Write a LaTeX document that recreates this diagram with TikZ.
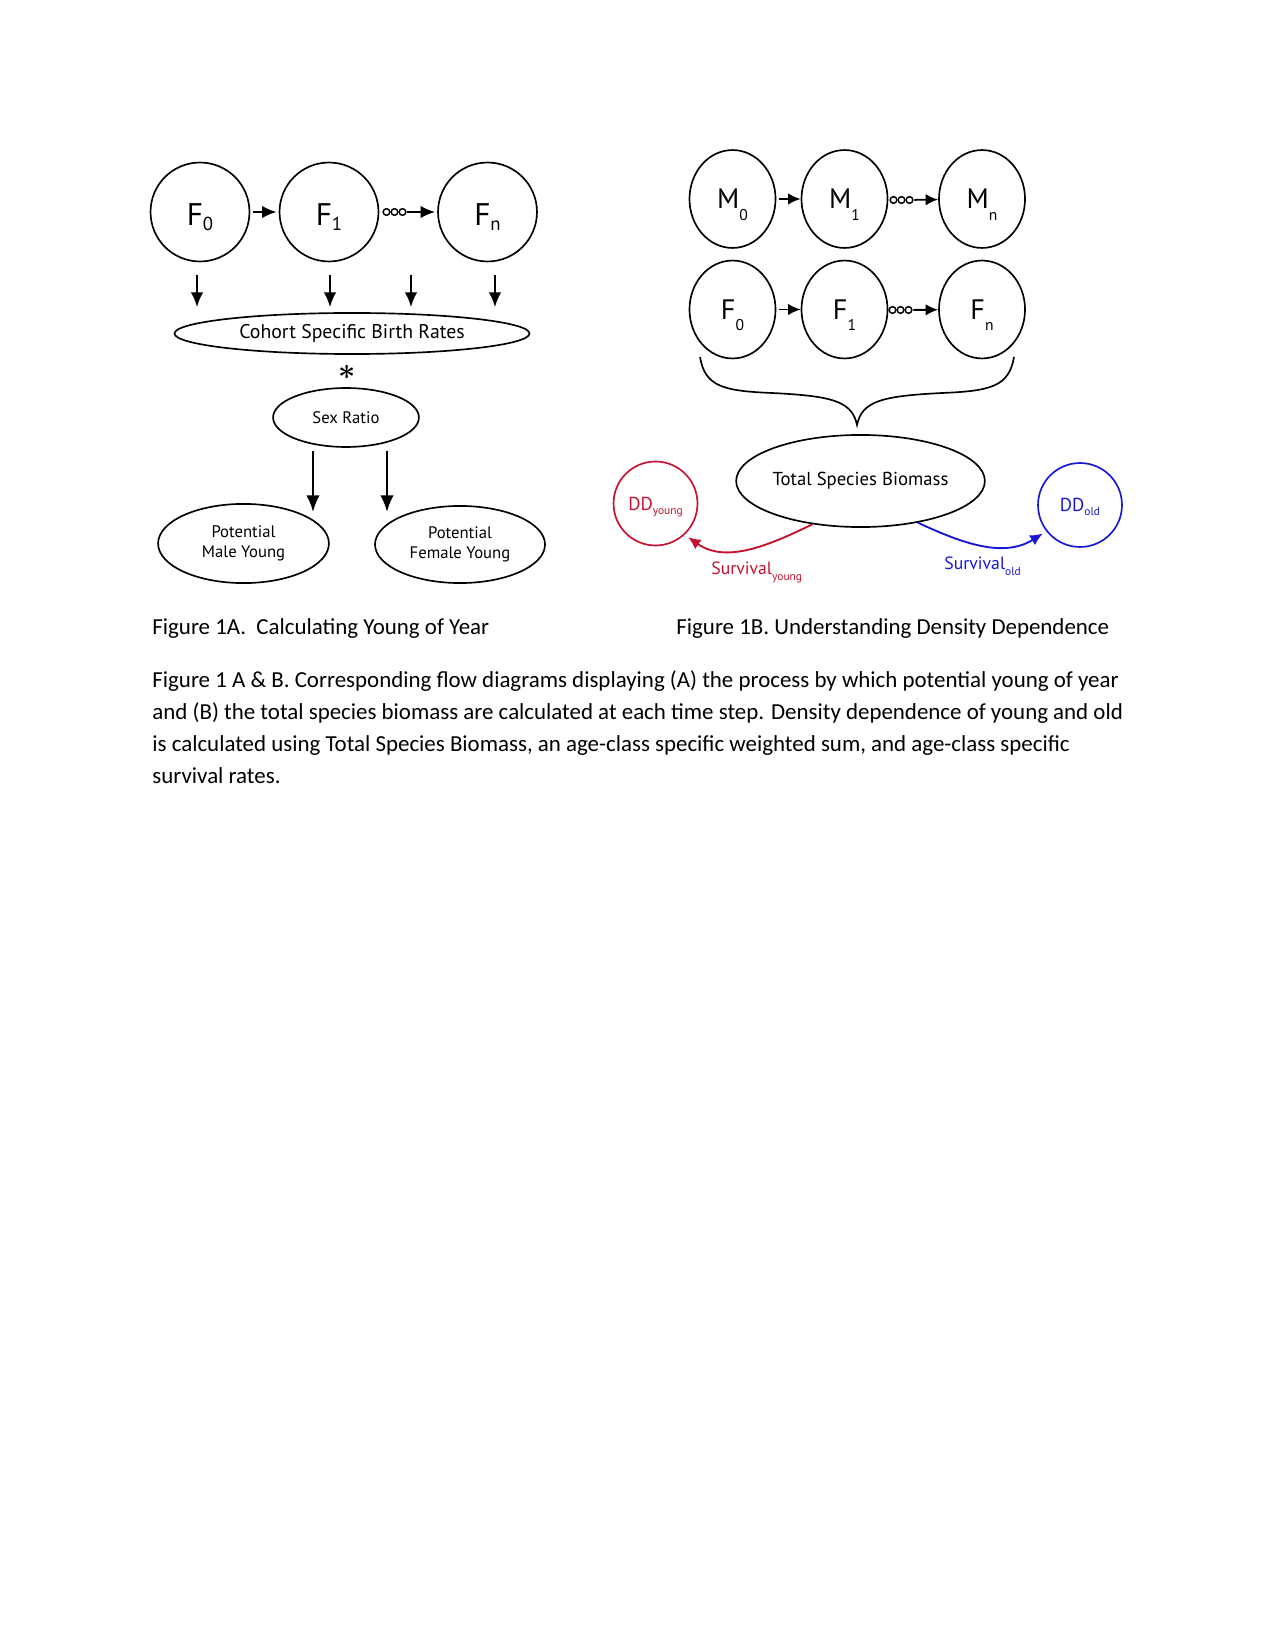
\documentclass[tikz,border=0pt]{standalone}
\usepackage{fontspec}
\usepackage{amsmath}
\setmainfont{Carlito}
\newfontfamily\diagfont{PT Sans}
\usetikzlibrary{arrows.meta,shapes.geometric,positioning}

\definecolor{ddred}{RGB}{196,18,48}
\definecolor{ddblue}{RGB}{24,24,210}

% cohort labels: big letter with a lowered index
\newcommand{\lefttag}[2]{{\fontsize{15}{15}\selectfont #1}\raisebox{-2.5pt}{\fontsize{9}{9}\selectfont #2}}
\newcommand{\righttag}[2]{{\fontsize{13.5}{14}\selectfont #1}\raisebox{-5.5pt}{\fontsize{7.5}{8}\selectfont #2}}
\newcommand{\subtag}[3]{#1\raisebox{#3}{\fontsize{5.5}{6}\selectfont #2}}

\begin{document}
\begin{tikzpicture}[x=0.48pt, y=-0.48pt,
    arr/.style={-{Latex[length=7pt,width=6pt]}, line width=0.9pt},
    thinarr/.style={-{Latex[length=6pt,width=5.5pt]}, line width=0.9pt},
    agecirc/.style={circle, draw, line width=0.8pt, minimum size=47.5pt, inner sep=0pt,
      text height=13pt, text depth=0pt, font=\diagfont},
    ageoval/.style={ellipse, draw, line width=0.8pt, minimum width=41.3pt, minimum height=47pt,
      inner sep=0pt, text height=9.5pt, text depth=0pt, font=\diagfont},
    flowoval/.style={ellipse, draw, line width=0.8pt, inner sep=0pt, align=center,
      font=\diagfont\fontsize{8}{9.9}\selectfont},
    ddcirc/.style={circle, draw=#1, text=#1, line width=0.8pt, minimum size=40.3pt, inner sep=0pt,
      text height=6.4pt, text depth=0pt, font=\diagfont\fontsize{9}{10}\selectfont},
    dots/.style={inner sep=0pt, minimum width=12pt, minimum height=3pt},
    caption/.style={anchor=base west, inner sep=0pt, font=\fontsize{11}{13}\selectfont}]
  \useasboundingbox (0,0) rectangle (1275,1650);

  % Figure 1A
  \node[agecirc] (f0) at (200,212) {\lefttag{F}{0}};
  \node[agecirc] (f1) at (329,212) {\lefttag{F}{1}};
  \node[agecirc] (fn) at (487.5,212) {\lefttag{F}{n}};
  \node[dots] (da) at (394.5,212) {};
  \foreach \dx in {-8,0,8} \draw[line width=0.7pt] ([xshift=\dx*0.48pt]da.center) circle (1.6pt);
  \draw[arr, shorten <=1.5pt, shorten >=1pt] (f0) -- (f1);
  \draw[arr, shorten >=1pt] (da) -- (fn);

  \node[flowoval, minimum width=170.4pt, minimum height=19.7pt,
    font=\diagfont\fontsize{9.5}{11}\selectfont] (cohort) at (352,333.5) {Cohort Specific Birth Rates};
  \foreach \x [count=\i] in {197,330,411,495} {
    \coordinate (bt\i) at (\x,275);
    \coordinate (bb\i) at (\x,307);
    \draw[arr] (bt\i) -- (bb\i);
  }

  \node (star) at (347,372) {\fontsize{15}{15}\selectfont$\boldsymbol{\ast}$};
  \node[flowoval, minimum width=70pt, minimum height=28.3pt] (sex) at (346,417.5) {Sex Ratio};
  \node[flowoval, minimum width=82pt, minimum height=38pt] (male) at (243.5,543.5) {Potential\\Male Young};
  \node[flowoval, minimum width=81.6pt, minimum height=37pt] (female) at (460,544.5) {Potential\\Female Young};
  \coordinate (sm) at (313,451); \coordinate (mt) at (313,512);
  \coordinate (sf) at (387,451); \coordinate (ft) at (387,512);
  \draw[arr, -{Latex[length=8pt,width=6.4pt]}] (sm) -- (mt);
  \draw[arr, -{Latex[length=8pt,width=6.4pt]}] (sf) -- (ft);

  % Figure 1B
  \node[ageoval] (m0) at (732.5,199) {\righttag{M}{0}};
  \node[ageoval] (m1) at (844.5,199) {\righttag{M}{1}};
  \node[ageoval] (mn) at (982,199) {\righttag{M}{n}};
  \node[ageoval] (g0) at (732.5,309.5) {\righttag{F}{0}};
  \node[ageoval] (g1) at (844.5,309.5) {\righttag{F}{1}};
  \node[ageoval] (gn) at (982,309.5) {\righttag{F}{n}};
  \node[dots] (dm) at (901.5,200) {};
  \node[dots] (dg) at (900.5,310) {};
  \foreach \d in {dm,dg}
    \foreach \dx in {-8,0,8} \draw[line width=0.7pt] ([xshift=\dx*0.48pt]\d.center) circle (1.6pt);
  \draw[thinarr, shorten <=1.5pt] (m0) -- (m1);
  \draw[thinarr, shorten <=1.5pt] (g0) -- (g1);
  \draw[thinarr] (dm) -- (mn);
  \draw[thinarr] (dg) -- (gn);

  % brace over the cohorts
  \draw[line width=0.8pt] (700,357) .. controls (705,386) and (722,391) .. (772,393)
    .. controls (832,396) and (852,401) .. (857,425)
    .. controls (862,401) and (882,396) .. (942,393)
    .. controls (992,391) and (1009,386) .. (1014,357);

  \node[flowoval, minimum width=116.6pt, minimum height=44.2pt,
    font=\diagfont\fontsize{9}{11}\selectfont] (tsb) at (860.5,481) {Total Species Biomass};
  \node[ddcirc=ddred] (ddy) at (655.5,503.5) {\subtag{DD}{young}{-2pt}};
  \node[ddcirc=ddblue] (ddo) at (1080,505) {\subtag{DD}{old}{-2pt}};
  \draw[thinarr, ddred, shorten >=2pt] (tsb.222) to[out=-154, in=-35] (ddy.-47);
  \draw[thinarr, ddblue, shorten >=2pt] (tsb.-36.6) to[out=-25, in=-148] (ddo.218.7);
  \node[anchor=base west, inner sep=0pt, text=ddred, font=\diagfont\fontsize{8.5}{10}\selectfont]
    (svy) at (711,574) {\subtag{Survival}{young}{-3pt}};
  \node[anchor=base west, inner sep=0pt, text=ddblue, font=\diagfont\fontsize{8.5}{10}\selectfont]
    (svo) at (944,569) {\subtag{Survival}{old}{-3pt}};

  % captions
  \node[caption] (capa) at (152,634) {Figure 1A.\ \ Calculating Young of Year};
  \node[caption] (capb) at (676,634) {Figure 1B. Understanding Density Dependence};
  \node[caption] (txt1) at (152,687) {Figure 1 A \& B. Corresponding flow diagrams displaying (A) the process by which potential young of year};
  \node[caption] (txt2) at (152,719) {and (B) the total species biomass are calculated at each time step. Density dependence of young and old};
  \node[caption] (txt3) at (152,751) {is calculated using Total Species Biomass, an age-class specific weighted sum, and age-class specific};
  \node[caption] (txt4) at (152,783) {survival rates.};
\end{tikzpicture}
\end{document}
